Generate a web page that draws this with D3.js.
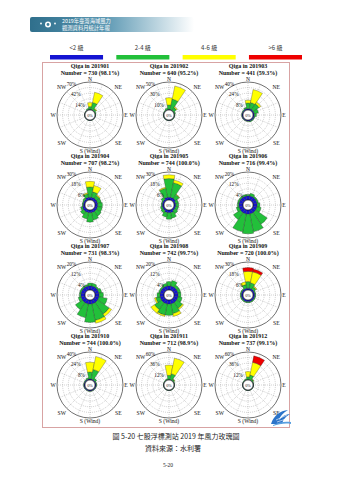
<!DOCTYPE html>
<html><head><meta charset="utf-8">
<script src="https://cdn.jsdelivr.net/npm/d3@7"></script>
<style>body{margin:0;background:#fff;} svg{display:block;}</style>
</head><body><svg id="c" width="339" height="480"></svg>
<script>
const classLabels = ["<2 級", "2-4 級", "4-6 級", ">6 級"];
const classColors = ["#1414d2", "#22c03a", "#ffff00", "#ee0000"];
const directions = ["N","NNE","NE","ENE","E","ESE","SE","SSE","S","SSW","SW","WSW","W","WNW","NW","NNW"];
const months = ["201901","201902","201903","201904","201905","201906","201907","201908","201909","201910","201911","201912"];
const numbers = ["730 (98.1%)","640 (95.2%)","441 (59.3%)","707 (98.2%)","744 (100.0%)","716 (99.4%)","731 (98.3%)","742 (99.7%)","720 (100.0%)","744 (100.0%)","712 (98.9%)","737 (99.1%)"];
const maxPct = [70,50,40,30,30,20,20,20,30,40,60,60];
const compassLabels = ["N","NE","E","SE","S (Wind)","SW","W","NW"];

const blueData = [
 [1.5,1.5,1,1,1,1,1,1,1,1,1,1,1,1,1,1.5],
 [1,1,1,1,1,1,1,1,1,1,1,1,1,1,1,1],
 [2,2,2,2,2,2,2,2,1.5,1.5,1.5,1.5,1.5,1.5,1.5,2],
 [3,3,3,3,3,3,3,3,3,3,3,3,2,2,2,3],
 [3,3,3,2,2,2,2,3,3,3,2,2,2,2,2,3],
 [3,3,3,3,3,3,3,3,3,3,3,3,3,3,3,3],
 [3,3,3,3,3,3,3,3,3,3,3,3,3,3,3,3],
 [3,3,3,3,3,3,3,3,3,3,3,3,3,3,3,3],
 [2,2,2,2,2,2,2,2,2,2,2,2,2,2,2,2],
 [1.5,1.5,1.5,1.5,1.5,1.5,1.5,1.5,1.5,1.5,1.5,1.5,1.5,1.5,1.5,1.5],
 [1,1,1,1,1,1,1,1,1,1,1,1,1,1,1,1],
 [1,1,1,1,1,1,1,1,1,1,1,1,1,1,1,1]
];
const greenData = [
 [7,18,5,2,1,0.5,0.5,0.5,0.5,0.5,0.5,0.5,0.5,0.5,1,3],
 [8,19,6,2,1,0.5,0.5,0.5,0.5,0.5,0.5,0.5,0.5,0.5,1,3],
 [8,9,10,6,3,1,1,1,0.5,0.5,0.5,0.5,0.5,0.5,1,2],
 [11,6,4,4,5,5,6,8,10,7,4,2,1,1,2,4],
 [20,16,5,3,3,3,4,6,7,5,3,2,1,1,3,10],
 [1,2,1,1,2,3,10,13,14,13,6,2,1,1,1,1],
 [2,2,1,2,3,6,10,12,13,10,6,2,1,1,1,1],
 [3,4,2,2,2,3,5,7,8,8,6,3,2,1,1,2],
 [7,6,3,1,1,1,1,1,1,1,1,1,1,1,1,4],
 [10,14,3,1,1,0.5,0.5,0.5,0.5,0.5,0.5,0.5,0.5,0.5,1,2],
 [9,13,3,1,0.5,0.5,0.5,0.5,0.5,0.5,0.5,0.5,0.5,0.5,1,2],
 [6,10,3,1,0.5,0.5,0.5,0.5,0.5,0.5,0.5,0.5,0.5,0.5,1,2]
];
const yellowData = [
 [10,26,2,0,0,0,0,0,0,0,0,0,0,0,0,0],
 [13,24,2,0,0,0,0,0,0,0,0,0,0,0,0,0],
 [4,19,3,0,0,0,0,0,0,0,0,0,0,0,0,0],
 [6,7,1,0,0,0,0,0,0,0,0,0,0,0,0,1],
 [4,3,0.5,0,0,0,0,0,0,0,0,0,0,0,0,1],
 [0,0,0,0,0,0,0,0,0,0,0,0,0,0,0,0],
 [0,0,0,0,0,0,2,2,0,0,0,0,0,0,0,0],
 [0,0,0,0,0,0,1,2,0,1,3,1,0,0,0,0],
 [11,12,1,0,0,0,0,0,0,0,0,0,0,0,0,3],
 [14,19,0,0,0,0,0,0,0,0,0,0,0,0,0,0],
 [22,34,1,0,0,0,0,0,0,0,0,0,0,0,0,0],
 [11,28,1,0,0,0,0,0,0,0,0,0,0,0,0,0]
];
const redData = [
 [0,0,0,0,0,0,0,0,0,0,0,0,0,0,0,0],
 [0,0,0,0,0,0,0,0,0,0,0,0,0,0,0,0],
 [0,0,0,0,0,0,0,0,0,0,0,0,0,0,0,0],
 [0,0,0,0,0,0,0,0,0,0,0,0,0,0,0,0],
 [0,0,0,0,0,0,0,0,0,0,0,0,0,0,0,0],
 [0,0,0,0,0,0,0,0,0,0,0,0,0,0,0,0],
 [0,0,0,0,0,0,0,0,0,0,0,0,0,0,0,0],
 [0,0,0,0,0,0,0,0,0,0,0,0,0,0,0,0],
 [4,3,0,0,0,0,0,0,0,0,0,0,0,0,0,0],
 [0,0,0,0,0,0,0,0,0,0,0,0,0,0,0,0],
 [0,0,0,0,0,0,0,0,0,0,0,0,0,0,0,0],
 [0,14,0,0,0,0,0,0,0,0,0,0,0,0,0,0]
];
const caption = "圖 5-20 七股浮標測站 2019 年風力玫瑰圖";
const source = "資料來源：水利署";
const pageNo = "5-20";
const bannerLines = ["2019年臺灣海域風力", "觀測資料月統計年報"];

const svg = d3.select("#c");
const serif = "'Liberation Serif','Times New Roman',serif";
const cjk = "'Noto Sans CJK TC','Noto Sans CJK SC',sans-serif";

// banner
const defs = svg.append("defs");
const lg = defs.append("linearGradient").attr("id","bn").attr("x1","0").attr("x2","1").attr("y1","0").attr("y2","0");
lg.append("stop").attr("offset","0").attr("stop-color","#2f6f8c");
lg.append("stop").attr("offset","0.45").attr("stop-color","#5a97b2");
lg.append("stop").attr("offset","1").attr("stop-color","#ffffff");
svg.append("rect").attr("x",30).attr("y",17).attr("width",164).attr("height",15).attr("rx",2).attr("fill","url(#bn)");
svg.append("circle").attr("cx",48).attr("cy",24.5).attr("r",3).attr("fill","#fff");
svg.append("circle").attr("cx",48).attr("cy",24.5).attr("r",1.4).attr("fill","#3d7f9b");
svg.append("circle").attr("cx",41).attr("cy",23.5).attr("r",0.9).attr("fill","#fff");
svg.append("circle").attr("cx",55).attr("cy",23.5).attr("r",0.9).attr("fill","#fff");
bannerLines.forEach((t,i)=>{
  svg.append("text").attr("x",62).attr("y",23 + i*6.5).attr("font-family",cjk).attr("font-size",5.3)
    .attr("fill","#fff").text(t);
});

// legend
const legX = d3.scaleBand().domain(classLabels).range([50, 302]).paddingInner(0.2);
classLabels.forEach((c,i)=>{
  svg.append("text").attr("x",legX(c)+legX.bandwidth()/2).attr("y",50).attr("text-anchor","middle")
    .attr("font-family",cjk).attr("font-size",6).attr("fill","#333").text(c);
  svg.append("rect").attr("x",legX(c)).attr("y",55).attr("width",legX.bandwidth()).attr("height",4.5)
    .attr("fill",classColors[i]);
});

// box
svg.append("rect").attr("x",42.5).attr("y",62.5).attr("width",247).attr("height",365)
  .attr("fill","none").attr("stroke","#d8a3a3").attr("stroke-width",1);

const colX = [90, 169, 248];
const rowY = [115, 205, 295, 385];
const R = 33, rc = 5;
const dirAngle = d3.scaleBand().domain(directions).range([-Math.PI/16, 2*Math.PI - Math.PI/16]);
const classData = [blueData, greenData, yellowData, redData];

months.forEach((m, k)=>{
  const cx = colX[k % 3], cy = rowY[Math.floor(k / 3)];
  const g = svg.append("g").attr("transform",`translate(${cx},${cy})`);
  const rs = d3.scaleLinear().domain([0, maxPct[k]]).range([rc, R]);
  const ticks = d3.range(1,6).map(i=> maxPct[k]*i/5);

  // grid
  ticks.slice(0,4).forEach(t=>{
    g.append("circle").attr("r",rs(t)).attr("fill","none").attr("stroke","#8a8a8a")
      .attr("stroke-width",0.4).attr("stroke-dasharray","1,1");
  });
  directions.forEach(d=>{
    const a = dirAngle(d) + dirAngle.bandwidth()/2;
    g.append("line").attr("x1",rc*Math.sin(a)).attr("y1",-rc*Math.cos(a))
      .attr("x2",R*Math.sin(a)).attr("y2",-R*Math.cos(a))
      .attr("stroke","#8a8a8a").attr("stroke-width",0.4).attr("stroke-dasharray","1,1");
  });

  // wedges stacked
  const arc = d3.arc();
  directions.forEach((d,i)=>{
    let cum = 0;
    classData.forEach((arr, c)=>{
      const v = arr[k][i];
      if (v > 0) {
        const a0 = dirAngle(d), a1 = a0 + dirAngle.bandwidth();
        g.append("path").attr("d", arc({innerRadius: rs(cum), outerRadius: rs(cum+v), startAngle: a0, endAngle: a1}))
          .attr("fill", classColors[c]).attr("stroke","#222").attr("stroke-width",0.3);
      }
      cum += v;
    });
  });

  g.append("circle").attr("r",R).attr("fill","none").attr("stroke","#111").attr("stroke-width",0.6);
  g.append("circle").attr("r",rc).attr("fill","#fff").attr("stroke","#111").attr("stroke-width",0.6);
  g.append("text").attr("y",1.5).attr("text-anchor","middle").attr("font-family",serif)
    .attr("font-size",4.2).attr("fill","#111").text("0%");

  // percent labels
  [ticks[0], ticks[2], ticks[4]].forEach(t=>{
    const a = -0.4, r = rs(t);
    g.append("text").attr("x", r*Math.sin(a) - 1).attr("y", -r*Math.cos(a) + 1.5)
      .attr("text-anchor","end").attr("font-family",serif).attr("font-size",5.2).attr("fill","#111")
      .text(d3.format("d")(t) + "%");
  });

  // compass labels
  compassLabels.forEach((lab, j)=>{
    const a = j * Math.PI/4;
    let x, y, anchor = "middle";
    if (j === 0) { x = 0; y = -R - 1.2; }
    else if (j === 4) { x = 0; y = R + 5; }
    else if (j === 2) { x = R + 1.2; y = 2; anchor = "start"; }
    else if (j === 6) { x = -R - 1.2; y = 2; anchor = "end"; }
    else { const rr = R + 7; x = rr*Math.sin(a); y = -rr*Math.cos(a) + 2; }
    g.append("text").attr("x",x).attr("y",y).attr("text-anchor",anchor).attr("font-family",serif)
      .attr("font-size",5.6).attr("fill","#111").text(lab);
  });

  // titles
  g.append("text").attr("y",-47).attr("text-anchor","middle").attr("font-family",serif).attr("font-weight","bold")
    .attr("font-size",6).attr("fill","#111").text("Qiga in " + m);
  g.append("text").attr("y",-40).attr("text-anchor","middle").attr("font-family",serif).attr("font-weight","bold")
    .attr("font-size",6).attr("fill","#111").text("Number = " + numbers[k]);
});

// logo
const lgG = svg.append("g").attr("transform","translate(270,407)");
lgG.append("path").attr("d","M1,17 C4,8 10,4 18,3 C13,6 10,9 9,13 C12,9 16,7 20,7 C15,10 13,13 12,17 Z").attr("fill","#2d74c9");
lgG.append("path").attr("d","M3,18 C9,15 15,14 21,15 L21,17 C15,16 9,17 3,19 Z").attr("fill","#5aa0e0");
lgG.append("path").attr("d","M6,13 L17,8 M7,15 L19,11").attr("stroke","#fff").attr("stroke-width",0.6);

// caption
svg.append("text").attr("x",176).attr("y",439).attr("text-anchor","middle").attr("font-family",cjk)
  .attr("font-size",7).attr("fill","#222").text(caption);
svg.append("text").attr("x",173).attr("y",451).attr("text-anchor","middle").attr("font-family",cjk)
  .attr("font-size",7).attr("fill","#222").text(source);
svg.append("text").attr("x",168).attr("y",467).attr("text-anchor","middle").attr("font-family",serif)
  .attr("font-size",5.5).attr("fill","#222").text(pageNo);
</script></body></html>
